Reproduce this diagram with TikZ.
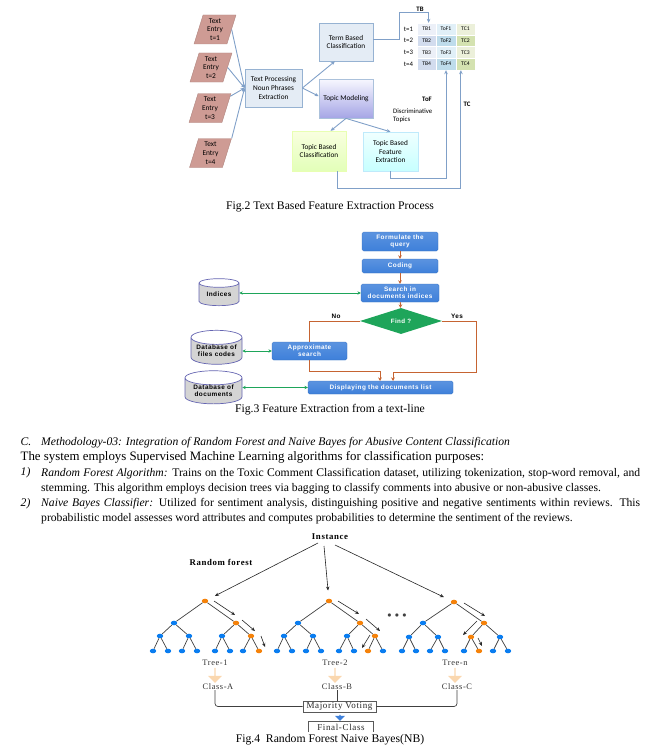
\documentclass[tikz,border=0pt]{standalone}
\usepackage{fontspec}
\setmainfont{Liberation Serif}
\setsansfont{Liberation Sans}
\newfontfamily\figtwofont{Carlito}
\newfontfamily\widesans[LetterSpace=7]{Liberation Sans}
\newfontfamily\wideserif[LetterSpace=7]{Liberation Serif}
\usetikzlibrary{matrix,shapes.geometric,shapes.arrows,positioning,arrows.meta}

\definecolor{linkblue}{RGB}{128,160,200}
\definecolor{boxedge}{RGB}{150,178,210}
\definecolor{boxfill}{RGB}{228,236,245}
\definecolor{entryfill}{RGB}{206,155,148}
\definecolor{flowblue}{RGB}{62,128,218}
\definecolor{flowred}{RGB}{198,100,50}
\definecolor{flowgreen}{RGB}{30,165,90}
\definecolor{nodeblue}{RGB}{10,125,240}
\definecolor{nodeorange}{RGB}{245,130,10}
\definecolor{palearrow}{RGB}{250,215,175}
\definecolor{tbl-a}{RGB}{236,240,248}
\definecolor{tbl-b}{RGB}{210,220,238}
\definecolor{tbl-c}{RGB}{225,240,248}
\definecolor{tbl-d}{RGB}{190,220,235}
\definecolor{tbl-e}{RGB}{236,240,218}
\definecolor{tbl-f}{RGB}{212,226,176}

\tikzset{
  entry/.style={trapezium, trapezium left angle=75, trapezium right angle=105, trapezium stretches=true,
    draw=entryfill!85!black, line width=0.4pt, fill=entryfill, minimum width=42pt, minimum height=29pt,
    inner sep=0pt, align=center, font=\figtwofont\fontsize{7.4}{8.8}\selectfont},
  procbox/.style={draw=boxedge, line width=0.8pt, fill=boxfill, align=center, inner sep=1pt,
    font=\figtwofont\fontsize{7.3}{8.8}\selectfont},
  softbox/.style={procbox, draw=#1, line width=0.4pt},
  link/.style={draw=linkblue, line width=0.9pt, -{Stealth[length=4pt,width=3.6pt]}},
  smalllabel/.style={inner sep=0pt, font=\figtwofont\fontsize{6.8}{8.4}\selectfont},
  boldlabel/.style={inner sep=0pt, font=\figtwofont\bfseries\fontsize{6.8}{8}\selectfont},
  2d-cell/.style={draw=white, line width=0.4pt, minimum width=19.4pt, minimum height=11.75pt, inner sep=0pt,
    anchor=center, font=\figtwofont\fontsize{5.6}{6}\selectfont},
  querybox/.style={rounded corners=1.5pt, draw=flowblue!85!black, line width=0.3pt, top color=flowblue!85!white,
    bottom color=flowblue, text=white, align=center, inner sep=0pt,
    font=\widesans\bfseries\fontsize{6.4}{6.9}\selectfont},
  store/.style={cylinder, shape border rotate=90, aspect=0.35, draw=black!50!blue!60!white, line width=0.7pt,
    cylinder uses custom fill, cylinder end fill=white, cylinder body fill=black!17,
    align=center, inner sep=0pt, font=\widesans\bfseries\fontsize{6.4}{6.9}\selectfont},
  redlink/.style={draw=flowred, line width=0.8pt},
  redarrow/.style={redlink, -{Stealth[length=3.6pt,width=3.6pt]}},
  greenlink/.style={draw=flowgreen, line width=0.8pt, {Stealth[length=3.4pt,width=3.4pt]}-{Stealth[length=3.4pt,width=3.4pt]}},
  yesno/.style={inner sep=0pt, font=\widesans\bfseries\fontsize{6.4}{7}\selectfont},
  caption/.style={inner sep=0pt, font=\fontsize{11.7}{13}\selectfont},
  bodyline/.style={inner sep=0pt, anchor=base west, font=\fontsize{11.65}{13}\selectfont},
  bodypar/.style={inner sep=0pt, anchor=north west, text width=599pt, align=justify,
    font=\fontsize{11.65}{15.2}\selectfont},
  leaf/.style={ellipse, fill=#1, minimum width=6.4pt, minimum height=4.6pt, inner sep=0pt},
  branch/.style={draw=black!75, line width=0.7pt},
  walk/.style={draw=black!85, line width=0.6pt, -{Stealth[length=4pt,width=3.4pt]}},
  forestlabel/.style={inner sep=0pt, font=\wideserif\fontsize{8.4}{9}\selectfont, text=black!80},
  forestbold/.style={inner sep=0pt, font=\wideserif\bfseries\fontsize{8.8}{9}\selectfont},
  votebox/.style={inner sep=0pt, font=\wideserif\fontsize{9}{9}\selectfont, text=black!85}
}

\begin{document}
\begin{tikzpicture}[x=1pt, y=-1pt]
\useasboundingbox (0,0) rectangle (657,752);

% Text entries
\node[entry] (entry1) at (215,29.5) {Text\\Entry\\t=1};
\node[entry] (entry2) at (211,67.5) {Text\\Entry\\t=2};
\node[entry] (entry3) at (210,108) {Text\\Entry\\t=3};
\node[entry] (entry4) at (210.5,153) {Text\\Entry\\t=4};

% Processing and classification boxes
\node[procbox, minimum width=57pt, minimum height=38pt] (proc) at (273.5,88) {Text Processing\\Noun Phrases\\Extraction};
\node[procbox, minimum width=54pt, minimum height=38pt] (term) at (346,42) {Term Based\\Classification};
\node[procbox, draw=boxedge!80, minimum width=54pt, minimum height=39pt, top color=blue!3, bottom color=blue!28!white!90!black] (topic) at (346,98.5) {Topic Modeling};
\node[softbox=green!30!yellow!30!white, minimum width=54pt, minimum height=40pt, top color=green!20!yellow!12, bottom color=green!40!yellow!28] (tbc) at (319,151) {Topic Based\\Classification};
\node[softbox=cyan!25!white, minimum width=55pt, minimum height=39pt, top color=cyan!6, bottom color=cyan!22] (tbf) at (390.5,151.5) {Topic Based\\Feature\\Extraction};

% Feature table
\matrix (tbl) [matrix of nodes, row sep=-\pgflinewidth, column sep=-\pgflinewidth, nodes={2d-cell}] at (446,46.5) {
|[fill=tbl-a]| TB1 &|[fill=tbl-c]| ToF1 & |[fill=tbl-e]| TC1 \\
|[fill=tbl-b]| TB2 &|[fill=tbl-d]| ToF2 & |[fill=tbl-f]| TC2 \\
|[fill=tbl-a]| TB3 &|[fill=tbl-c]| ToF3 & |[fill=tbl-e]| TC3 \\
|[fill=tbl-b]| TB4 &|[fill=tbl-d]| ToF4 & |[fill=tbl-f]| TC4 \\
};
\node[smalllabel, left=3.5pt of tbl-1-1] {t=1};
\node[smalllabel, left=3.5pt of tbl-2-1] {t=2};
\node[smalllabel, left=3.5pt of tbl-3-1] {t=3};
\node[smalllabel, left=3.5pt of tbl-4-1] {t=4};

\node[boldlabel] (tblab) at (420,9) {TB};
\node[boldlabel] (toflab) at (427,99) {ToF};
\node[boldlabel] (tclab) at (467,104) {TC};
\node[smalllabel, align=left, anchor=west] (disc) at (393,115.5) {Discriminative\\Topics};

% Arrows of the text process
\draw[link] (entry1.east) -- (proc.west);
\draw[link] (entry2.east) -- (proc.west);
\draw[link] (entry3.30) -- (proc.west);
\draw[link] (entry4.top right corner) -- (proc.west);
\draw[link] (proc.east) -- (term.240);
\draw[link] (proc.east) -- (topic.175);
\draw[link] (topic.south) -- (tbc.60);
\draw[link] (topic.south) -- (tbf.north);
\draw[link] ([yshift=3pt]term.east) -- ++(26,0) -- ++(0,-27) -| ([xshift=2pt]tbl-1-1.north);
\draw[link] (tbf.south) |- (tbl-4-2.south |- 0,178) -- (tbl-4-2.south);
\draw[link] ([xshift=18pt]tbc.south) |- ([xshift=-4.5pt]tbl-4-3.south |- 0,188) -- ([xshift=-4.5pt]tbl-4-3.south);

\node[caption] (cap2) at (330,207) {Fig.2 Text Based Feature Extraction Process};

% Query flow
\node[querybox, minimum width=76pt, minimum height=19pt] (query) at (400,241.5) {Formulate the\\query};
\node[querybox, minimum width=76pt, minimum height=14pt] (coding) at (400,266) {Coding};
\node[querybox, minimum width=78pt, minimum height=18pt] (search) at (400,293) {Search in\\documents indices};
\node[diamond, aspect=3.15, fill=flowgreen, text=white, inner sep=0pt, minimum width=82pt, minimum height=26pt,
  font=\widesans\bfseries\fontsize{6.2}{7}\selectfont] (find) at (401,321) {Find ?};
\node[querybox, minimum width=75pt, minimum height=18pt] (approx) at (309.5,351) {Approximate\\search};
\node[querybox, minimum width=145pt, minimum height=13pt] (display) at (380.5,387.5) {Displaying the documents list};

% Stores
\node[store, minimum width=40pt, minimum height=27pt] (idx) at (219,294.5) {Indices};
\node[store, minimum width=51pt, minimum height=34pt] (dbfiles) at (216.5,351) {Database of\\files codes};
\node[store, minimum width=57pt, minimum height=26pt] (dbdocs) at (213.5,391) {Database of\\documents};

\node[yesno] (nolab) at (336,316) {No};
\node[yesno] (yeslab) at (457,316) {Yes};

\draw[redarrow] (query) -- (coding);
\draw[redarrow] (coding) -- (search);
\draw[redarrow] (search) -- (find);
\draw[redlink] (find.west) -| (approx.north);
\draw[redarrow] (approx.south) |- (380,371) -- (380,381);
\draw[redarrow] (find.east) -| (476,372) -| (393,381);
\draw[greenlink] (idx.east |- search) -- (search.west);
\draw[greenlink] (dbfiles.east |- approx) -- (approx.west);
\draw[greenlink] (dbdocs.east |- display) -- (display.west);

\node[caption] (cap3) at (330,410) {Fig.3 Feature Extraction from a text-line};

% Methodology text
\node[bodyline] (seclab) at (20.5,445.7) {\itshape C.};
\node[bodyline] (sectitle) at (41,445.7) {\itshape Methodology-03: Integration of Random Forest and Naive Bayes for Abusive Content Classification};
\node[bodyline, font=\fontsize{12.85}{13}\selectfont] (intro) at (20.5,460.7) {The system employs Supervised Machine Learning algorithms for classification purposes:};
\node[bodyline] (item1) at (20.5,475.7) {\itshape 1)};
\node[bodypar] (par1) at (41,467.6) {\textit{Random Forest Algorithm:} Trains on the Toxic Comment Classification dataset, utilizing tokenization, stop-word removal, and\linebreak stemming. This algorithm employs decision trees via bagging to classify comments into abusive or non-abusive classes.};
\node[bodyline] (item2) at (20.5,506) {\itshape 2)};
\node[bodypar] (par2) at (41,497.9) {\textit{Naive Bayes Classifier:} Utilized for sentiment analysis, distinguishing positive and negative sentiments within reviews. This\linebreak probabilistic model assesses word attributes and computes probabilities to determine the sentiment of the reviews.};

% Random forest
\node[forestbold] (inst) at (330,537) {Instance};
\node[forestbold] (rflab) at (221,562) {Random forest};

\foreach \nm/\x/\y/\col in {
  a1/205/601/nodeorange, a2/174/623/nodeblue, a3/236/623/nodeorange, a4/160/636/nodeblue, a5/189/636/nodeblue,
  a6/222/636/nodeblue, a7/251/636/nodeorange, a8/153/651/nodeblue, a9/168/651/nodeblue, a10/182/651/nodeblue,
  a11/197/651/nodeblue, a12/215/651/nodeblue, a13/230/651/nodeblue, a14/243/651/nodeblue, a15/259/651/nodeorange,
  b1/329/601/nodeorange, b2/298/623/nodeblue, b3/360/623/nodeorange, b4/284/636/nodeblue, b5/313/636/nodeblue,
  b6/347/636/nodeblue, b7/375/636/nodeorange, b8/277/651/nodeblue, b9/292/651/nodeblue, b10/306/651/nodeblue,
  b11/321/651/nodeblue, b12/339/651/nodeblue, b13/354/651/nodeblue, b14/368/651/nodeorange, b15/383/651/nodeblue,
  c1/454/602/nodeorange, c2/423/623/nodeblue, c3/484/623/nodeorange, c4/409/637/nodeblue, c5/438/637/nodeblue,
  c6/471/637/nodeorange, c7/500/637/nodeblue, c8/402/651/nodeblue, c9/416/651/nodeblue, c10/430/651/nodeblue,
  c11/445/651/nodeblue, c12/464/651/nodeblue, c13/479/651/nodeorange, c14/493/651/nodeblue, c15/508/651/nodeblue}
  \node[leaf=\col] (\nm) at (\x,\y) {};

\foreach \tr in {a,b,c}
  \foreach \up/\dn in {1/2,1/3,2/4,2/5,3/6,3/7,4/8,4/9,5/10,5/11,6/12,6/13,7/14,7/15}
    \draw[branch] (\tr\up) -- (\tr\dn);

% Walk arrows next to the branches
\foreach \nm/\xa/\ya/\xb/\yb in {
  w1/214/601/235/615, w2/242/620/255/631, w3/261/636/265/647,
  w4/338/601/359/614, w5/366/619/380/631, w6/370/635/362/648,
  w7/464/603/485/616, w8/477/621/463/635, w9/478/638/482/646} {
  \coordinate (\nm-s) at (\xa,\ya);
  \coordinate (\nm-e) at (\xb,\yb);
  \draw[walk] (\nm-s) -- (\nm-e);
}

\coordinate (inst-l) at (318,543);
\coordinate (inst-m) at (324,546);
\coordinate (inst-r) at (335,545);
\draw[walk, shorten >=8pt] (inst-l) -- (a1);
\draw[walk, shorten >=8pt] (inst-m) -- (b1);
\draw[walk, shorten >=8pt] (inst-r) -- (c1);

\node[inner sep=0pt, font=\fontsize{8}{8}\selectfont, text=black!75] (more) at (397,616) {$\bullet\,\bullet\,\bullet$};

\node[forestlabel] (tree1) at (215,663) {Tree-1};
\node[forestlabel] (tree2) at (335,663) {Tree-2};
\node[forestlabel] (treen) at (455,663) {Tree-n};
\node[forestlabel] (classa) at (218,687) {Class-A};
\node[forestlabel] (classb) at (337,687) {Class-B};
\node[forestlabel] (classc) at (457,687) {Class-C};

\foreach \nm/\x in {drop1/215, drop2/335, dropn/455}
  \node[single arrow, fill=palearrow, shape border rotate=270, minimum height=15pt, minimum width=14pt,
    single arrow head extend=2pt, inner sep=0pt] (\nm) at (\x,675) {};

\node[votebox, draw=black!65, line width=0.7pt, fill=white, minimum width=73pt, minimum height=11pt] (vote) at (339.5,706.5) {Majority Voting};
\node[votebox, minimum width=64pt, minimum height=10pt] (final) at (341,727) {Final-Class};
\draw[draw=black!65, line width=0.7pt] (final.south west) -- (final.north west) -- (final.north east) -- (final.south east);
\node[single arrow, fill=flowblue, shape border rotate=270, minimum height=6pt, minimum width=10pt,
  single arrow head extend=1.5pt, inner sep=0pt] (votedrop) at (340,717.5) {};

\draw[branch, rounded corners=3pt] (classa.south -| tree1) |- (vote.west);
\draw[branch, rounded corners=3pt] (classc.south) |- (vote.east);
\draw[branch] (classb.south) -- (classb.south |- vote.north);

\node[caption] (cap4) at (330,740) {Fig.4~ Random Forest Naive Bayes(NB)};

\end{tikzpicture}
\end{document}
